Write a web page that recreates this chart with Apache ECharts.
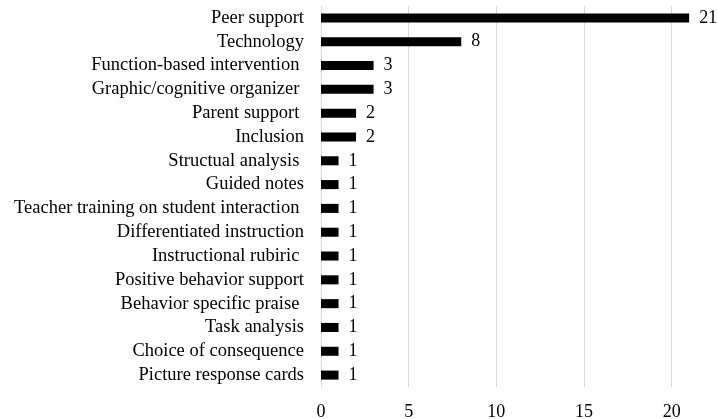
<!DOCTYPE html>
<html>
<head>
<meta charset="utf-8">
<script src="https://cdn.jsdelivr.net/npm/echarts@6/dist/echarts.min.js"></script>
<style>
html,body{margin:0;padding:0;background:#fff;}
#chart{width:717px;height:419px;}
</style>
</head>
<body>
<div id="chart"></div>
<script>
const categories = [
  "Peer support",
  "Technology",
  "Function-based intervention ",
  "Graphic/cognitive organizer ",
  "Parent support ",
  "Inclusion",
  "Structual analysis ",
  "Guided notes",
  "Teacher training on student interaction ",
  "Differentiated instruction",
  "Instructional rubiric ",
  "Positive behavior support",
  "Behavior specific praise ",
  "Task analysis",
  "Choice of consequence",
  "Picture response cards"
];
const counts = [21, 8, 3, 3, 2, 2, 1, 1, 1, 1, 1, 1, 1, 1, 1, 1];
const xTicks = [0, 5, 10, 15, 20];

const FONT = '"Liberation Serif", "Times New Roman", serif';
const chart = echarts.init(document.getElementById('chart'), null, {renderer: 'canvas'});
chart.setOption({
  animation: false,
  backgroundColor: '#ffffff',
  grid: {left: 321, top: 6, width: 385.7, height: 381, containLabel: false, outerBoundsMode: 'none'},
  xAxis: {
    type: 'value',
    min: 0,
    max: 22,
    interval: 5,
    axisLine: {show: false},
    axisTick: {show: false},
    splitLine: {show: true, showMinLine: false, showMaxLine: false, lineStyle: {color: '#d9d9d9', width: 1}},
    axisLabel: {
      showMaxLabel: false,
      color: '#000',
      fontFamily: FONT,
      fontSize: 18,
      margin: 16,
      formatter: function (v) { return xTicks.indexOf(v) >= 0 ? String(v) : ''; }
    }
  },
  yAxis: {
    type: 'category',
    data: categories,
    inverse: true,
    axisLine: {show: true, lineStyle: {color: '#d9d9d9', width: 1}},
    axisTick: {show: false},
    axisLabel: {color: '#000', fontFamily: FONT, fontSize: 18.5, margin: 17, interval: 0}
  },
  series: [{
    type: 'bar',
    data: counts,
    barWidth: '38%',
    itemStyle: {color: '#000'},
    label: {
      show: true,
      position: 'right',
      distance: 10,
      color: '#000',
      fontFamily: FONT,
      fontSize: 18
    }
  }]
});
</script>
</body>
</html>
